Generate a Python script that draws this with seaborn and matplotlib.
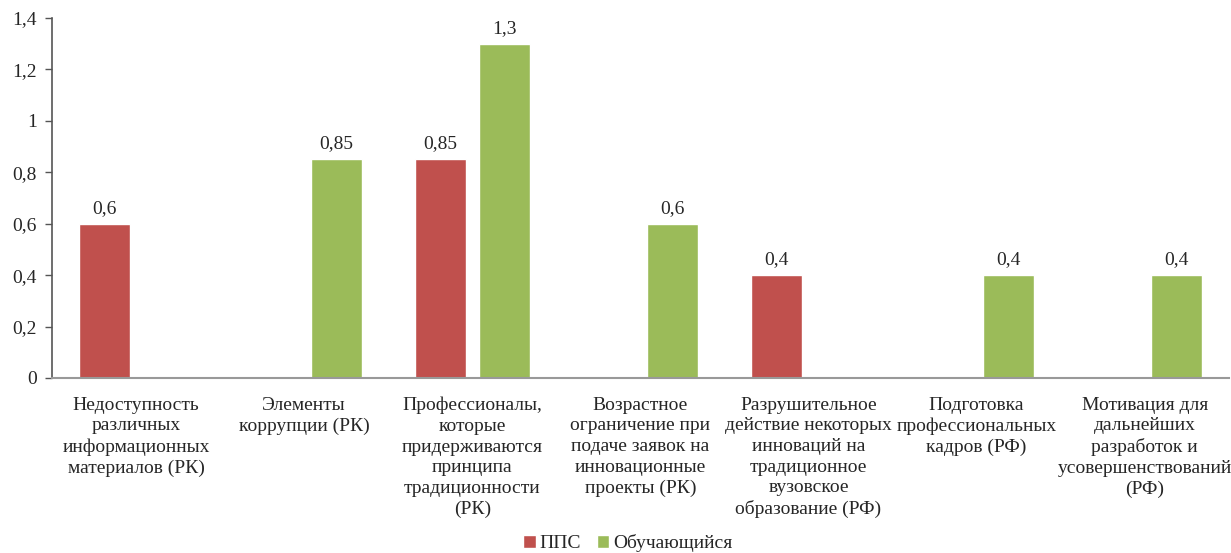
import pandas as pd
import matplotlib
matplotlib.use("Agg")
import matplotlib.pyplot as plt
import seaborn as sns
from matplotlib.ticker import FuncFormatter, MultipleLocator

# Данные с графика
categories = [
    "Недоступность\nразличных\nинформационных\nматериалов (РК)",
    "Элементы\nкоррупции (РК)",
    "Профессионалы,\nкоторые\nпридерживаются\nпринципа\nтрадиционности\n(РК)",
    "Возрастное\nограничение при\nподаче заявок на\nинновационные\nпроекты (РК)",
    "Разрушительное\nдействие некоторых\nинноваций на\nтрадиционное\nвузовское\nобразование (РФ)",
    "Подготовка\nпрофессиональных\nкадров (РФ)",
    "Мотивация для\nдальнейших\nразработок и\nусовершенствований\n(РФ)",
]
series_names = ["ППС", "Обучающийся"]
pps_values = [0.6, 0, 0.85, 0, 0.4, 0, 0]
student_values = [0, 0.85, 1.3, 0.6, 0, 0.4, 0.4]

colors = {"ППС": "#C0504D", "Обучающийся": "#9BBB59"}


def fmt(v):
    return f"{v:g}".replace(".", ",")


df = pd.DataFrame({
    "category": categories * 2,
    "series": [series_names[0]] * len(categories) + [series_names[1]] * len(categories),
    "value": pps_values + student_values,
})

sns.set_style("white")
plt.rcParams["font.family"] = "serif"
plt.rcParams["font.serif"] = ["Liberation Serif", "DejaVu Serif"]
plt.rcParams["font.size"] = 14

fig = plt.figure(figsize=(12.31, 5.53), dpi=100)
ax = fig.add_axes([0.0422, 0.3165, 0.956, 0.651])

sns.barplot(data=df, x="category", y="value", hue="series", hue_order=series_names,
            palette=colors, width=0.76, gap=0.2, saturation=1, ax=ax, legend=True)

# подписи значений (нулевые не подписываем)
for cont, vals in zip(ax.containers, [pps_values, student_values]):
    ax.bar_label(cont, labels=[fmt(v) if v else "" for v in vals], padding=5, fontsize=14)

ax.set_ylim(0, 1.4)
ax.set_xlim(-0.5, len(categories) - 0.5)
ax.yaxis.set_major_locator(MultipleLocator(0.2))
ax.yaxis.set_major_formatter(FuncFormatter(lambda v, p: fmt(round(v, 1))))
ax.set_xlabel("")
ax.set_ylabel("")

for s in ["top", "right"]:
    ax.spines[s].set_visible(False)
ax.spines["left"].set_color("#555555")
ax.spines["bottom"].set_color("#999999")
ax.spines["left"].set_linewidth(1.2)
ax.spines["bottom"].set_linewidth(1.5)

ax.tick_params(axis="y", left=True, length=5, width=1, color="#555555", pad=6, labelsize=14)
ax.tick_params(axis="x", bottom=False, pad=10, labelsize=14)
for lab in ax.get_xticklabels():
    lab.set_linespacing(1.28)
    lab.set_ha("center")

handles, labels = ax.get_legend_handles_labels()
ax.legend_.remove()
fig.legend(handles, labels, loc="lower center", bbox_to_anchor=(0.51, -0.03), ncol=2,
           frameon=False, handlelength=0.65, handleheight=0.65, handletextpad=0.2,
           columnspacing=0.8, fontsize=14)

plt.savefig("out.png", dpi=100)
